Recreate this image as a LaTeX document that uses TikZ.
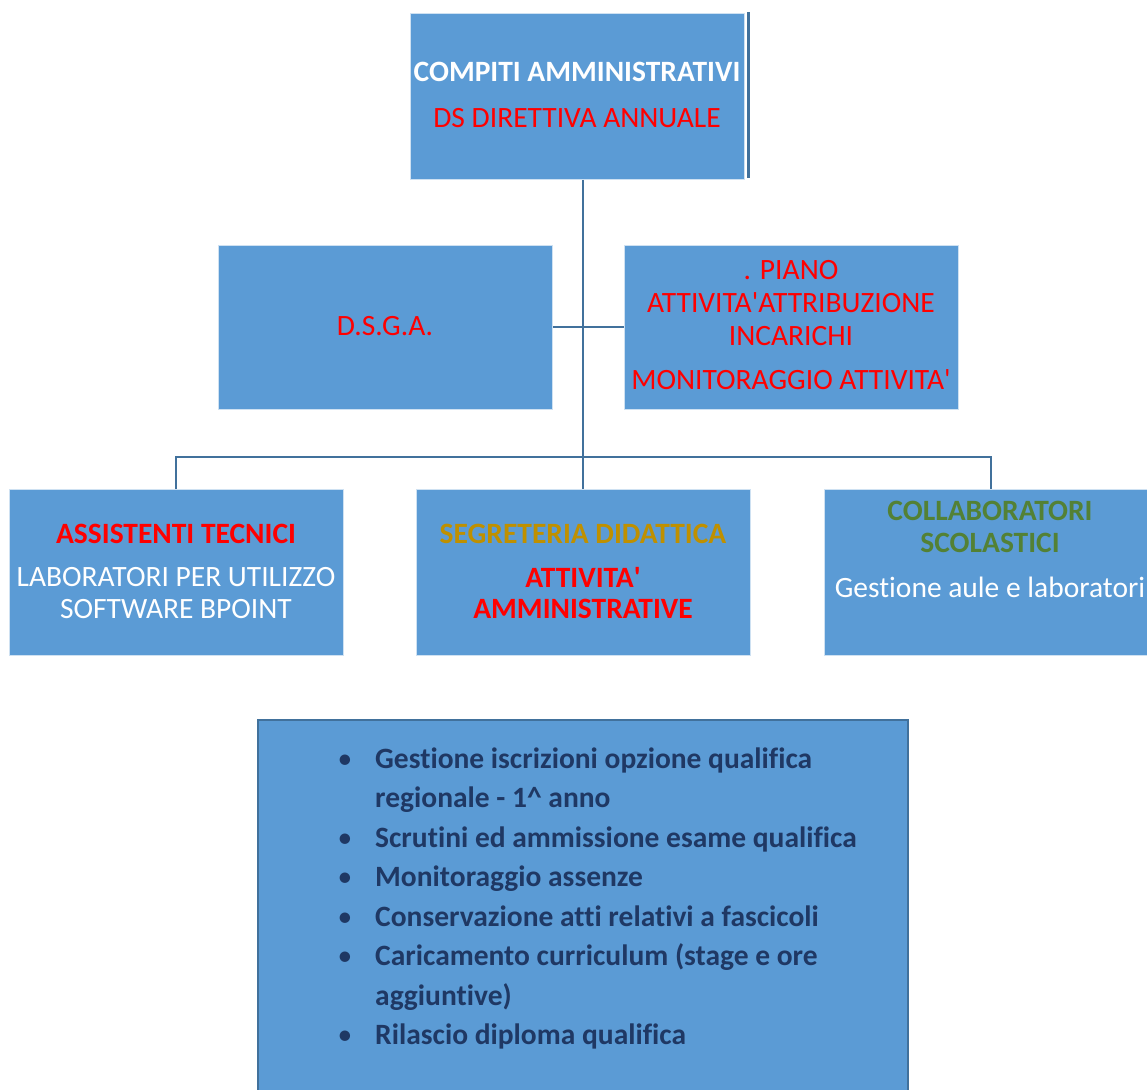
\documentclass[tikz,border=0pt]{standalone}
\usepackage{fontspec}
\setmainfont{Carlito}[Ligatures=NoCommon]
\definecolor{boxblue}{HTML}{5B9BD5}
\definecolor{linec}{HTML}{41719C}
\definecolor{gold}{HTML}{BF9000}
\definecolor{dgreen}{HTML}{538135}
\definecolor{navy}{HTML}{1F3864}
\newcommand{\apo}{\textquotesingle}
\tikzset{
  box/.style={fill=boxblue, draw=white!70!boxblue, line width=0.8pt, anchor=north west, inner sep=0pt},
  conn/.style={draw=linec, line width=2pt},
  txt/.style={anchor=base, inner sep=0pt, font=\fontsize{29.5}{34}\selectfont},
  btxt/.style={txt, font=\fontsize{29.5}{34}\selectfont\bfseries},
  litem/.style={anchor=base west, inner sep=0pt, text=navy, font=\fontsize{29.5}{34}\selectfont\bfseries},
  bul/.style={anchor=base, inner sep=0pt, text=navy, font=\fontsize{29.5}{34}\selectfont}
}
\begin{document}
\begin{tikzpicture}[x=1pt,y=-1pt]
\useasboundingbox (0,0) rectangle (1147,1089);
\clip (0,0) rectangle (1147,1089);
% boxes
\node[box, minimum width=334, minimum height=166] (top) at (410,13) {};
\node[box, minimum width=334, minimum height=164] (dsga) at (218,245) {};
\node[box, minimum width=334, minimum height=164] (piano) at (624,245) {};
\node[box, minimum width=334, minimum height=166] (al) at (9,489) {};
\node[box, minimum width=334, minimum height=166] (am) at (416,489) {};
\node[box, minimum width=334, minimum height=166] (ar) at (824,489) {};
\node[box, draw=linec, line width=2pt, minimum width=650, minimum height=400] (list) at (257,719) {};
% right bar of top box
\draw[draw=linec, line width=3pt] ([xshift=3.5pt,yshift=1pt]top.north east) -- ([xshift=3.5pt,yshift=2pt]top.south east);
% connectors
\coordinate (bus) at (583,457);
\draw[conn] (am.north |- top.south) -- (am.north);
\draw[conn] (dsga.east) -- (piano.west);
\draw[conn] (al.north) |- (bus) -| (ar.north);
% texts
\node[btxt, text=white] (t1) at (577,82) {COMPITI AMMINISTRATIVI};
\node[txt, text=red] (t2) at (577,127) {DS DIRETTIVA ANNUALE};
\node[txt, text=red] (t3) at (385,335) {D.S.G.A.};
\node[txt, text=red] (t4) at (791,279) {. PIANO};
\node[txt, text=red] (t5) at (791,312) {ATTIVITA\apo ATTRIBUZIONE};
\node[txt, text=red] (t6) at (791,345) {INCARICHI};
\node[txt, text=red] (t7) at (791,389) {MONITORAGGIO ATTIVITA\apo};
\node[btxt, text=red] (t8) at (176,543) {ASSISTENTI TECNICI};
\node[txt, text=white] (t9) at (176,586) {LABORATORI PER UTILIZZO};
\node[txt, text=white] (t10) at (176,618) {SOFTWARE BPOINT};
\node[btxt, text=gold] (t11) at (583,543) {SEGRETERIA DIDATTICA};
\node[btxt, text=red] (t12) at (583,587) {ATTIVITA\apo};
\node[btxt, text=red] (t13) at (583,618) {AMMINISTRATIVE};
\node[btxt, text=dgreen] (t14) at (990,520) {COLLABORATORI};
\node[btxt, text=dgreen] (t15) at (990,552) {SCOLASTICI};
\node[txt, text=white] (t16) at (990,597) {Gestione aule e laboratori};
% list
\node[bul] (b1) at (345,768) {•};
\node[litem] (l1) at (375,768) {Gestione iscrizioni opzione qualifica};
\node[litem] (l2) at (375,807.5) {regionale - 1\^{} anno};
\node[bul] (b2) at (345,847) {•};
\node[litem] (l3) at (375,847) {Scrutini ed ammissione esame qualifica};
\node[bul] (b3) at (345,886.5) {•};
\node[litem] (l4) at (375,886.5) {Monitoraggio assenze};
\node[bul] (b4) at (345,926) {•};
\node[litem] (l5) at (375,926) {Conservazione atti relativi a fascicoli};
\node[bul] (b5) at (345,965.5) {•};
\node[litem] (l6) at (375,965.5) {Caricamento curriculum (stage e ore};
\node[litem] (l7) at (375,1005) {aggiuntive)};
\node[bul] (b6) at (345,1044.5) {•};
\node[litem] (l8) at (375,1044.5) {Rilascio diploma qualifica};
\end{tikzpicture}
\end{document}
